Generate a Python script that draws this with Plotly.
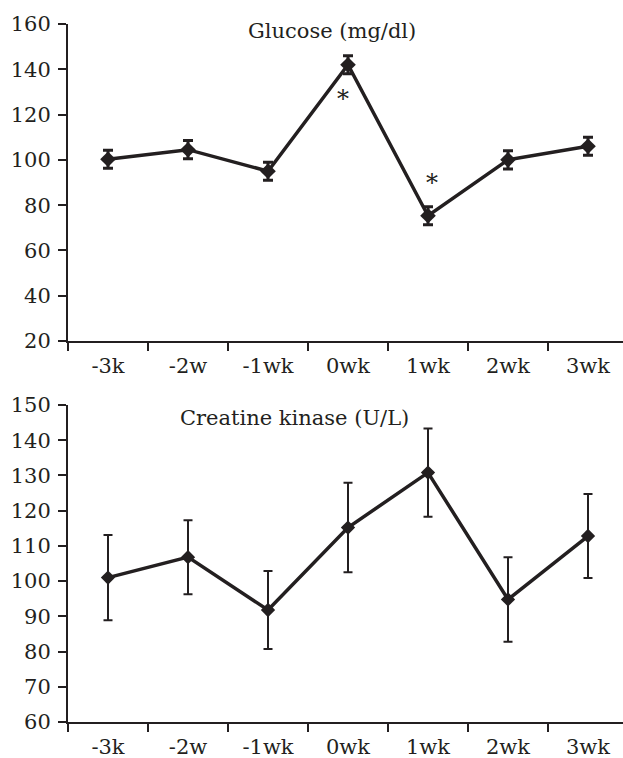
import plotly.graph_objects as go
from plotly.subplots import make_subplots

# Time points
weeks = ["-3k", "-2w", "-1wk", "0wk", "1wk", "2wk", "3wk"]

# Glucose (mg/dl): means and errors
glucose = [100.3, 104.5, 95.0, 142.0, 75.3, 100.0, 106.0]
glucose_err = [4.0, 4.0, 4.0, 4.0, 4.0, 4.0, 4.0]

# Creatine kinase (U/L): means and errors
ck = [101.0, 106.8, 91.8, 115.2, 130.8, 94.8, 112.8]
ck_err = [12.1, 10.5, 11.1, 12.7, 12.5, 12.0, 11.9]

# Significance markers on the glucose panel
sig_weeks = ["0wk", "1wk"]
sig_y = [127.0, 90.0]
sig_shift = [-5, 4]

INK = "#231f20"
FONT = "DejaVu Serif"
FS = 21

fig = make_subplots(rows=2, cols=1, vertical_spacing=0.0916)

fig.add_trace(go.Scatter(
    x=weeks, y=glucose, mode="lines+markers",
    line=dict(color=INK, width=3.5),
    marker=dict(symbol="diamond", size=12, color=INK),
    error_y=dict(type="data", array=glucose_err, visible=True,
                 color=INK, thickness=3, width=5),
    showlegend=False), row=1, col=1)

fig.add_trace(go.Scatter(
    x=weeks, y=ck, mode="lines+markers",
    line=dict(color=INK, width=3.5),
    marker=dict(symbol="diamond", size=11, color=INK),
    error_y=dict(type="data", array=ck_err, visible=True,
                 color=INK, thickness=2, width=4.5),
    showlegend=False), row=2, col=1)

for wk, yv, dx in zip(sig_weeks, sig_y, sig_shift):
    fig.add_annotation(x=wk, y=yv, text="*", showarrow=False, xshift=dx,
                       font=dict(family=FONT, size=24, color=INK),
                       xref="x", yref="y")

fig.add_annotation(x=2.8, y=157, text="Glucose (mg/dl)", showarrow=False,
                   font=dict(family=FONT, size=FS, color=INK), xref="x", yref="y")
fig.add_annotation(x=2.33, y=146.3, text="Creatine kinase (U/L)", showarrow=False,
                   font=dict(family=FONT, size=FS, color=INK), xref="x2", yref="y2")

xcommon = dict(
    type="category", range=[-0.5, 6.4375], tickson="boundaries",
    showline=True, linecolor=INK, linewidth=2,
    ticks="outside", ticklen=8, tickwidth=2, tickcolor=INK,
    tickfont=dict(family=FONT, size=FS, color=INK),
    showgrid=False, zeroline=False, fixedrange=True, ticklabelstandoff=5,
)
ycommon = dict(
    showline=True, linecolor=INK, linewidth=2,
    ticks="outside", ticklen=8, tickwidth=2, tickcolor=INK,
    tickfont=dict(family=FONT, size=FS, color=INK),
    showgrid=False, zeroline=False, ticklabelstandoff=3,
)

fig.update_xaxes(**xcommon)
fig.update_yaxes(**ycommon)
fig.update_yaxes(range=[20, 160], dtick=20, row=1, col=1)
fig.update_yaxes(range=[60, 150], dtick=10, row=2, col=1)

fig.update_layout(
    width=623, height=758,
    margin=dict(l=68, r=0, t=24, b=36),
    paper_bgcolor="white", plot_bgcolor="white",
    font=dict(family=FONT, color=INK),
)
fig.update_layout(yaxis=dict(domain=[0.5458, 1.0]), yaxis2=dict(domain=[0.0, 0.4542]))

fig.write_html("out.html")
